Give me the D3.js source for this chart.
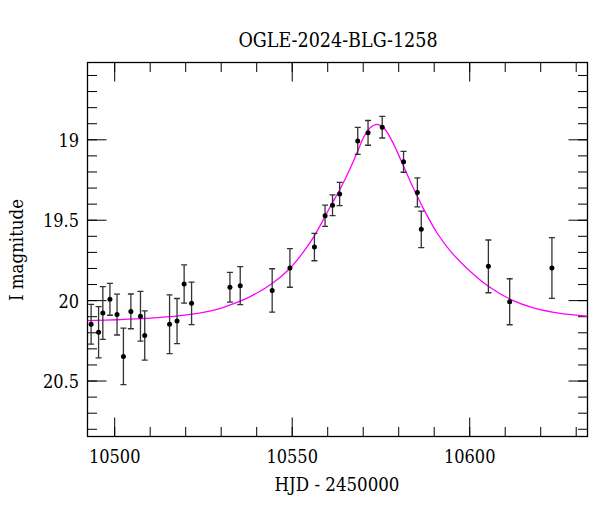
<!DOCTYPE html>
<html>
<head>
<meta charset="utf-8">
<script src="https://cdn.jsdelivr.net/npm/d3@7"></script>
<style>
html,body{margin:0;padding:0;background:#fff;}
svg text{font-family:'DejaVu Serif Condensed','DejaVu Serif',serif;font-stretch:condensed;fill:#000;}
</style>
</head>
<body>
<svg id="chart" width="600" height="512"></svg>
<script>
// Observed OGLE I-band photometry
const hjd = [10493.5, 10495.6, 10496.8, 10498.8, 10500.8, 10502.6, 10504.7, 10507.4, 10508.6, 10515.6,
             10517.7, 10519.7, 10521.8, 10532.6, 10535.5, 10544.5, 10549.5, 10556.4, 10559.4, 10561.5,
             10563.5, 10568.6, 10571.5, 10575.5, 10581.5, 10585.4, 10586.5, 10605.4, 10611.4, 10623.3];
const mag = [20.15, 20.20, 20.08, 19.995, 20.09, 20.35, 20.07, 20.10, 20.22, 20.15,
             20.13, 19.90, 20.02, 19.92, 19.91, 19.94, 19.80, 19.67, 19.475, 19.41,
             19.34, 19.01, 18.96, 18.925, 19.14, 19.33, 19.56, 19.79, 20.01, 19.80];
const magErr = [0.124, 0.159, 0.164, 0.099, 0.127, 0.176, 0.108, 0.155, 0.153, 0.183,
                0.140, 0.119, 0.132, 0.092, 0.118, 0.135, 0.120, 0.085, 0.066, 0.064,
                0.072, 0.084, 0.077, 0.067, 0.065, 0.090, 0.114, 0.164, 0.143, 0.189];

// Model curve
const modelT = [10492.5, 10500.8, 10509.2, 10518.6, 10527.9, 10532.7, 10538.3, 10544.5, 10549.6, 10553.3,
                10556.4, 10559.4, 10561.0, 10563.5, 10566.5, 10568.7, 10570.2, 10572.1, 10574.0, 10575.9,
                10577.8, 10579.6, 10581.5, 10583.4, 10585.4, 10587.1, 10589.0, 10590.9, 10594.7, 10599.4,
                10605.4, 10611.6, 10618.1, 10625.6, 10633.3];
const modelMag = [20.127, 20.122, 20.114, 20.097, 20.064, 20.030, 19.978, 19.897, 19.800, 19.700,
                  19.600, 19.480, 19.413, 19.315, 19.180, 19.068, 18.990, 18.928, 18.907, 18.928,
                  18.991, 19.072, 19.167, 19.262, 19.356, 19.431, 19.509, 19.581, 19.695, 19.803,
                  19.914, 19.995, 20.048, 20.082, 20.099];

const xMajor = [10500, 10550, 10600];
const xMinor = d3.range(10500, 10631, 10);
const yMajor = [19, 19.5, 20, 20.5];
const yMinor = d3.range(186, 209).map(v => v / 10);

const title = "OGLE-2024-BLG-1258";
const xTitle = "HJD - 2450000";
const yTitle = "I magnitude";

const L = 87.5, R = 587.5, T = 62.5, B = 436.5;
const x = d3.scaleLinear().domain([10492.48, 10633.32]).range([L, R]);
const y = d3.scaleLinear().domain([18.5224, 20.848]).range([T, B]);

const svg = d3.select("#chart");

svg.append("defs").append("clipPath").attr("id", "clip")
  .append("rect").attr("x", L).attr("y", T).attr("width", R - L).attr("height", B - T);

function styleAxis(g) {
  g.select(".domain").remove();
  g.selectAll(".tick line").attr("stroke", "#000").attr("stroke-width", 1);
}

// bottom
svg.append("g").attr("transform", `translate(0,${B})`)
  .call(d3.axisBottom(x).tickValues(xMinor).tickSize(-9.5).tickFormat(""))
  .call(styleAxis);
const gb = svg.append("g").attr("transform", `translate(0,${B})`)
  .call(d3.axisBottom(x).tickValues(xMajor).tickSize(-19).tickFormat(d3.format("d")))
  .call(styleAxis);
gb.selectAll("text").attr("y", 26).attr("dy", null).style("font-size", "18px");

// top
svg.append("g").attr("transform", `translate(0,${T})`)
  .call(d3.axisTop(x).tickValues(xMinor).tickSize(-9.5).tickFormat(""))
  .call(styleAxis);
svg.append("g").attr("transform", `translate(0,${T})`)
  .call(d3.axisTop(x).tickValues(xMajor).tickSize(-19).tickFormat(""))
  .call(styleAxis);

// left
svg.append("g").attr("transform", `translate(${L},0)`)
  .call(d3.axisLeft(y).tickValues(yMinor).tickSize(-9.5).tickFormat(""))
  .call(styleAxis);
const gl = svg.append("g").attr("transform", `translate(${L},0)`)
  .call(d3.axisLeft(y).tickValues(yMajor).tickSize(-19).tickFormat(d => String(d)))
  .call(styleAxis);
gl.selectAll("text").attr("x", -8.5).attr("dy", null).attr("y", 7.2).style("font-size", "18px");

// right
svg.append("g").attr("transform", `translate(${R},0)`)
  .call(d3.axisRight(y).tickValues(yMinor).tickSize(-9.5).tickFormat(""))
  .call(styleAxis);
svg.append("g").attr("transform", `translate(${R},0)`)
  .call(d3.axisRight(y).tickValues(yMajor).tickSize(-19).tickFormat(""))
  .call(styleAxis);

// frame
svg.append("rect").attr("x", L).attr("y", T).attr("width", R - L).attr("height", B - T)
  .attr("fill", "none").attr("stroke", "#000").attr("stroke-width", 1.3);

// model curve
const modelData = modelT.map((t, i) => [t, modelMag[i]]);
svg.append("path").datum(modelData)
  .attr("clip-path", "url(#clip)")
  .attr("fill", "none").attr("stroke", "#ff00ff").attr("stroke-width", 1.3)
  .attr("d", d3.line().x(d => x(d[0])).y(d => y(d[1])).curve(d3.curveCatmullRom.alpha(0.5)));

// data
const pts = hjd.map((t, i) => ({t, m: mag[i], e: magErr[i]}));
const gp = svg.append("g").attr("clip-path", "url(#clip)");
const eb = gp.selectAll("g.eb").data(pts).join("g").attr("class", "eb")
  .attr("stroke", "#333").attr("stroke-width", 1.3);
eb.append("line").attr("x1", d => x(d.t)).attr("x2", d => x(d.t))
  .attr("y1", d => y(d.m - d.e)).attr("y2", d => y(d.m + d.e));
eb.append("line").attr("x1", d => x(d.t) - 3).attr("x2", d => x(d.t) + 3)
  .attr("y1", d => y(d.m - d.e)).attr("y2", d => y(d.m - d.e));
eb.append("line").attr("x1", d => x(d.t) - 3).attr("x2", d => x(d.t) + 3)
  .attr("y1", d => y(d.m + d.e)).attr("y2", d => y(d.m + d.e));
gp.selectAll("circle").data(pts).join("circle")
  .attr("cx", d => x(d.t)).attr("cy", d => y(d.m)).attr("r", 2.5).attr("fill", "#000");

// titles
svg.append("text").attr("x", 338).attr("y", 47).attr("text-anchor", "middle")
  .style("font-size", "19.5px").text(title);
svg.append("text").attr("x", 337).attr("y", 491).attr("text-anchor", "middle")
  .style("font-size", "18.5px").text(xTitle);
svg.append("text").attr("transform", "translate(23,250) rotate(-90)").attr("text-anchor", "middle")
  .style("font-size", "18.5px").text(yTitle);
</script>
</body>
</html>
